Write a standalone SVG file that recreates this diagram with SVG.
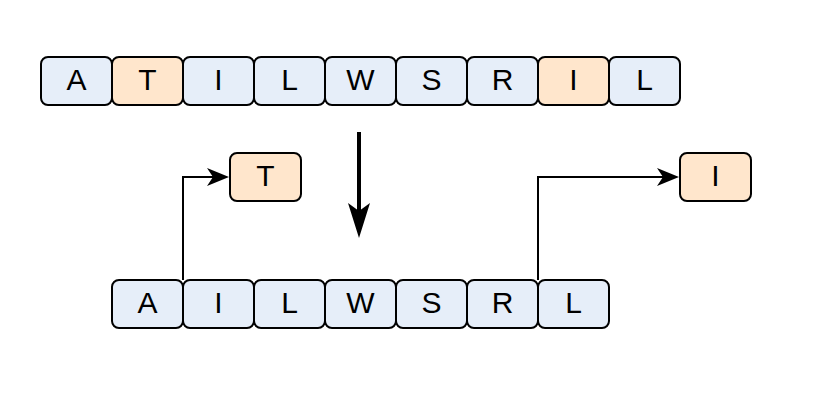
<svg xmlns="http://www.w3.org/2000/svg" width="830" height="411" viewBox="0 0 830 411">
<style>
.b rect{fill:#e6eef9;stroke:#000;stroke-width:2}
.o rect{fill:#ffe6cc;stroke:#000;stroke-width:2}
text{font-family:"Liberation Sans",Arial,sans-serif;font-size:30px;fill:#000;text-anchor:middle;dominant-baseline:central}
.c{fill:none;stroke:#000;stroke-width:2}
.h{fill:#000;stroke:none}
</style>
<defs>
<path id="headR" d="M0,0 L-22,-9 L-16,0 L-22,9 Z"/>
</defs>
<g id="top-row">
<g id="t1" class="b"><rect x="41" y="57" width="71" height="48" rx="7"/><text x="76.5" y="79">A</text></g>
<g id="t2" class="o"><rect x="112" y="57" width="71" height="48" rx="7"/><text x="147.5" y="79">T</text></g>
<g id="t3" class="b"><rect x="183" y="57" width="71" height="48" rx="7"/><text x="218.5" y="79">I</text></g>
<g id="t4" class="b"><rect x="254" y="57" width="71" height="48" rx="7"/><text x="289.5" y="79">L</text></g>
<g id="t5" class="b"><rect x="325" y="57" width="71" height="48" rx="7"/><text x="360.5" y="79">W</text></g>
<g id="t6" class="b"><rect x="396" y="57" width="71" height="48" rx="7"/><text x="431.5" y="79">S</text></g>
<g id="t7" class="b"><rect x="467" y="57" width="71" height="48" rx="7"/><text x="502.5" y="79">R</text></g>
<g id="t8" class="o"><rect x="538" y="57" width="71" height="48" rx="7"/><text x="573.5" y="79">I</text></g>
<g id="t9" class="b"><rect x="609" y="57" width="71" height="48" rx="7"/><text x="644.5" y="79">L</text></g>
</g>
<g id="bottom-row">
<g id="b1" class="b"><rect x="112" y="280" width="71" height="48" rx="7"/><text x="147.5" y="302">A</text></g>
<g id="b2" class="b"><rect x="183" y="280" width="71" height="48" rx="7"/><text x="218.5" y="302">I</text></g>
<g id="b3" class="b"><rect x="254" y="280" width="71" height="48" rx="7"/><text x="289.5" y="302">L</text></g>
<g id="b4" class="b"><rect x="325" y="280" width="71" height="48" rx="7"/><text x="360.5" y="302">W</text></g>
<g id="b5" class="b"><rect x="396" y="280" width="71" height="48" rx="7"/><text x="431.5" y="302">S</text></g>
<g id="b6" class="b"><rect x="467" y="280" width="71" height="48" rx="7"/><text x="502.5" y="302">R</text></g>
<g id="b7" class="b"><rect x="538" y="280" width="71" height="48" rx="7"/><text x="573.5" y="302">L</text></g>
</g>
<g id="outT" class="o"><rect x="230" y="153" width="71" height="48" rx="7"/><text x="265.5" y="175">T</text></g>
<g id="outI" class="o"><rect x="680" y="153" width="71" height="48" rx="7"/><text x="715.5" y="175">I</text></g>
<g id="connectors">
<path class="c" d="M183,280 V177 H214"/>
<use href="#headR" class="h" transform="translate(229,177)"/>
<path class="c" d="M538,280 V177 H664"/>
<use href="#headR" class="h" transform="translate(679,177)"/>
<path d="M359,132 V214" fill="none" stroke="#000" stroke-width="4"/>
<path class="h" d="M359,238 L348,203 L359,211 L370,203 Z"/>
</g>
</svg>
